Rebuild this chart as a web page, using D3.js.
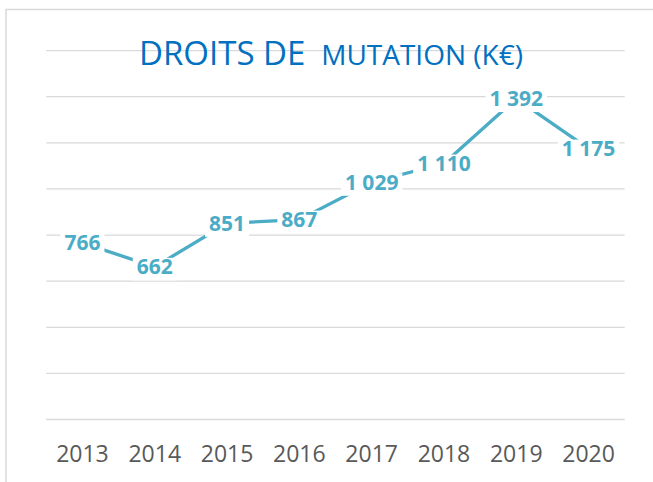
<!DOCTYPE html>
<html>
<head>
<meta charset="utf-8">
<script src="https://cdn.jsdelivr.net/npm/d3@7"></script>
<style>
  html, body { margin: 0; padding: 0; background: #fff; }
  svg { display: block; }
</style>
</head>
<body>
<svg id="chart" width="653" height="482"></svg>
<script>
const years = ["2013", "2014", "2015", "2016", "2017", "2018", "2019", "2020"];
const values = [766, 662, 851, 867, 1029, 1110, 1392, 1175];
const yTicks = [0, 200, 400, 600, 800, 1000, 1200, 1400, 1600];
const titleMain = "DROITS DE";
const titleSmall = "MUTATION (K€)";

(function () {
const svg = d3.select("#chart");
const W = 653, H = 482;
const mLeft = 46.3, mRight = 624.7, mTop = 50.6, mBottom = 419.5;

const x = d3.scaleBand().domain(years).range([mLeft, mRight]).padding(0);
const y = d3.scaleLinear().domain([0, 1600]).range([mBottom, mTop]);
const cx = d => x(d) + x.bandwidth() / 2;

// outer border
svg.append("path")
  .attr("d", `M6,${H + 2} L6,9.5 L${W + 2},9.5`)
  .attr("fill", "none")
  .attr("stroke", "#d9d9d9")
  .attr("stroke-width", 1.5);

// gridlines
svg.append("g")
  .selectAll("line")
  .data(yTicks)
  .join("line")
  .attr("x1", mLeft).attr("x2", mRight)
  .attr("y1", d => y(d)).attr("y2", d => y(d))
  .attr("stroke", "#d9d9d9")
  .attr("stroke-width", 1.3);

// x axis labels
const xAxis = d3.axisBottom(x).tickSize(0).tickPadding(0);
const gx = svg.append("g").attr("transform", `translate(0,${mBottom})`).call(xAxis);
gx.select(".domain").remove();
gx.selectAll("text")
  .attr("y", 42.5)
  .attr("dy", null)
  .attr("font-family", "'Open Sans', sans-serif")
  .attr("font-size", 23)
  .attr("fill", "#595959");

// line
const line = d3.line().x((d, i) => cx(years[i])).y(d => y(d));
svg.append("path")
  .datum(values)
  .attr("d", line)
  .attr("fill", "none")
  .attr("stroke", "#4bacc6")
  .attr("stroke-width", 3.3);

// data labels
const fmt = v => d3.format(",")(v).replace(/,/g, " ");
const fs = 21;
const capH = fs * 0.714;
const lg = svg.append("g");
values.forEach((v, i) => {
  const px = cx(years[i]), py = y(v);
  const baseline = py + capH / 2;
  const t = lg.append("text")
    .attr("x", px).attr("y", baseline)
    .attr("text-anchor", "middle")
    .attr("font-family", "'Open Sans', sans-serif")
    .attr("font-weight", "bold")
    .attr("font-size", fs)
    .attr("fill", "#4bacc6")
    .text(fmt(v));
  const bb = t.node().getBBox();
  lg.insert("rect", function () { return t.node(); })
    .attr("x", bb.x - 4)
    .attr("y", baseline - capH - 1.5)
    .attr("width", bb.width + 8)
    .attr("height", capH + 7.5)
    .attr("fill", "#fff");
});

// title
const title = svg.append("text")
  .attr("x", 331).attr("y", 64.5)
  .attr("text-anchor", "middle")
  .attr("font-family", "'Open Sans', sans-serif")
  .attr("fill", "#0070c0");
title.append("tspan").attr("font-size", 33).text(titleMain + "\u00a0");
title.append("tspan").attr("font-size", 28).text("\u00a0" + titleSmall);
})();
</script>
</body>
</html>
